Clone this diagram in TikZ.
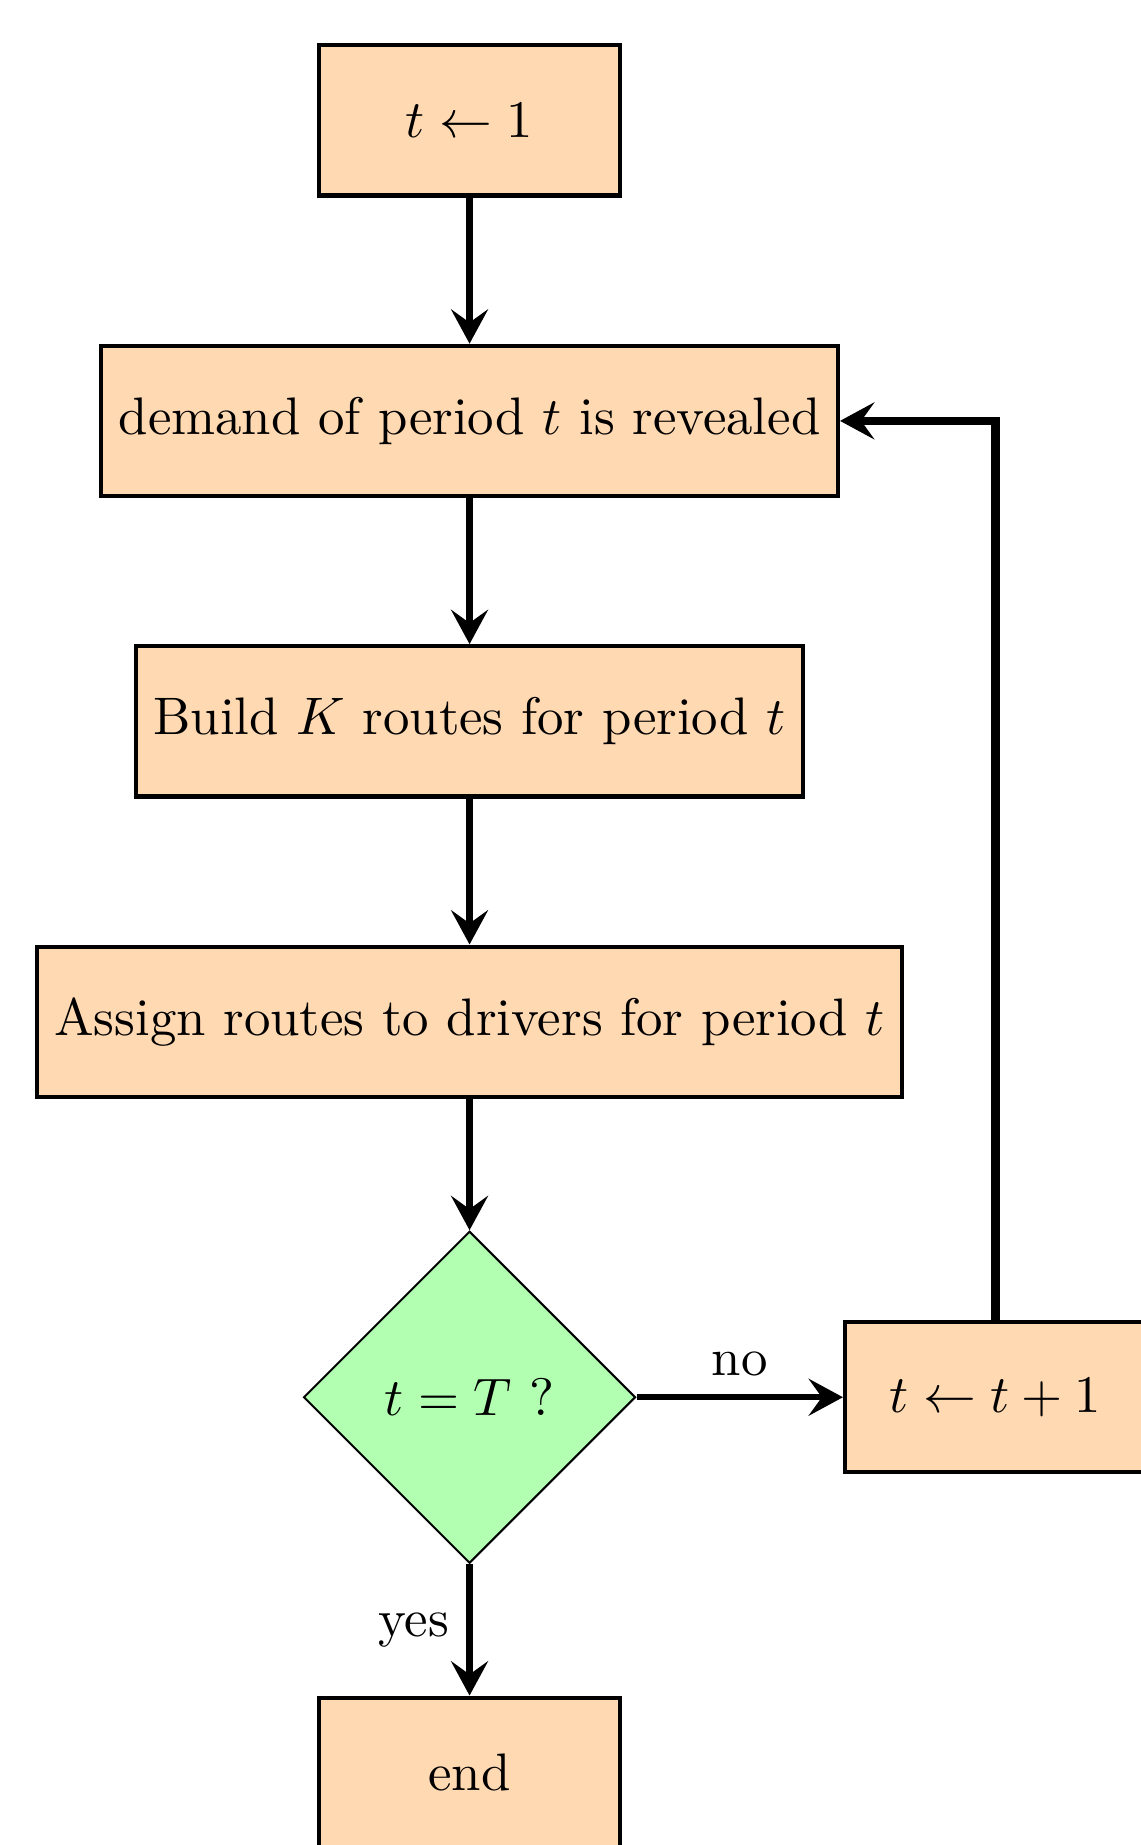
\documentclass[tikz,border=0pt]{standalone}
\usetikzlibrary{arrows,shapes,shapes.geometric,positioning}
\usetikzlibrary{arrows.meta}
\tikzstyle{stepbox}=[draw, thick, fill=orange!30, minimum width=2cm, minimum height=1cm]
\tikzstyle{decision}=[draw, diamond, aspect=1, fill=green!30, inner sep=0pt, minimum size=2.21cm]
\tikzstyle{flowArrow}=[line width=1.2pt, -{Stealth[length=6.5pt,width=7pt,inset=2.5pt]}]
\tikzstyle{loopArrow}=[line width=1.6pt, -{Stealth[length=6.5pt,width=7pt,inset=2.5pt]}]

\begin{document}
\begin{tikzpicture}
    \useasboundingbox (-3.126, 0.802) rectangle (4.464, -11.481);

    % nodes
    \node[stepbox] (init) at (0, 0) {$t \leftarrow 1$};
    \node[stepbox] (demand) at (0, -2) {demand of period $t$ is revealed};
    \node[stepbox] (build) at (0, -4) {Build $K$ routes for period $t$};
    \node[stepbox] (assign) at (0, -6) {Assign routes to drivers for period $t$};
    \node[decision] (check) at (0, -8.5) {$t = T$ ?};
    \node[stepbox] (incr) at (3.5, -8.5) {$t \leftarrow t + 1$};
    \node[stepbox] (finish) at (0, -11) {end};

    % arrows
    \draw[flowArrow] (init) -- (demand);
    \draw[flowArrow] (demand) -- (build);
    \draw[flowArrow] (build) -- (assign);
    \draw[flowArrow] (assign) -- (check);
    \draw[flowArrow] (check) -- node [midway, above] {no} (incr);
    \draw[flowArrow] (check) -- node [midway, left] {yes} (finish);

    % loop back
    \draw[loopArrow] (incr.north) |- (demand.east);
\end{tikzpicture}
\end{document}
